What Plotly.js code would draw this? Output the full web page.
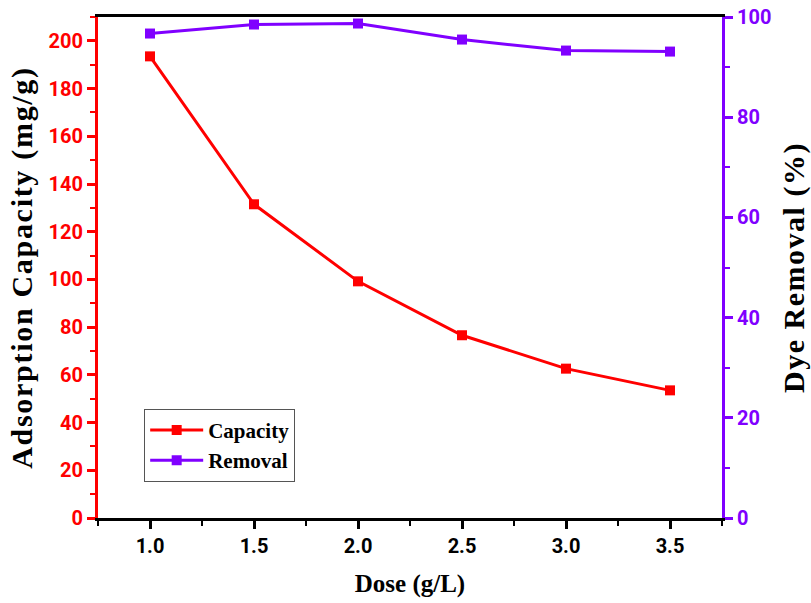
<!DOCTYPE html>
<html>
<head>
<meta charset="utf-8">
<script src="https://cdn.plot.ly/plotly-3.0.1.min.js"></script>
<style>
html,body{margin:0;padding:0;background:#fff;}
#chart{width:811px;height:603px;}
.xtick text, .ytick text, .y2tick text {font-weight:700 !important;}
.g-ytitle text {letter-spacing:1.7px;}
.g-y2title text {letter-spacing:1.5px;}
</style>
</head>
<body>
<div id="chart"></div>
<script>
const dose = [1.0, 1.5, 2.0, 2.5, 3.0, 3.5];
const capacity = [193.5, 131.5, 99.2, 76.6, 62.6, 53.5];
const removal = [96.7, 98.5, 98.7, 95.5, 93.3, 93.1];
const xTickVals = [1.0, 1.5, 2.0, 2.5, 3.0, 3.5];
const xTickText = ['1.0', '1.5', '2.0', '2.5', '3.0', '3.5'];

const RED = '#ff0000';
const PURPLE = '#8000ff';
const SANS = 'Roboto, Arial, sans-serif';
const SERIF = 'Liberation Serif, Times New Roman, serif';

const traces = [
  {x: dose, y: capacity, name: 'Capacity', type: 'scatter', mode: 'lines+markers',
   line: {color: RED, width: 3}, marker: {symbol: 'square', size: 10, color: RED}, yaxis: 'y'},
  {x: dose, y: removal, name: 'Removal', type: 'scatter', mode: 'lines+markers',
   line: {color: PURPLE, width: 3}, marker: {symbol: 'square', size: 10, color: PURPLE}, yaxis: 'y2'}
];

const layout = {
  width: 811, height: 603,
  margin: {l: 98, r: 89, t: 17, b: 85},
  paper_bgcolor: '#fff', plot_bgcolor: '#fff',
  showlegend: true,
  legend: {x: 0.074, y: 0.218, xanchor: 'left', yanchor: 'top',
    bordercolor: '#555', borderwidth: 1, bgcolor: 'rgba(255,255,255,0)',
    font: {family: SERIF, size: 21, color: '#000', weight: 700},
    tracegroupgap: 0, itemwidth: 53},
  xaxis: {
    range: [0.75, 3.75], tickvals: xTickVals, ticktext: xTickText,
    showline: true, linecolor: '#000', linewidth: 3, mirror: true,
    ticks: 'outside', ticklen: 8, tickwidth: 3, tickcolor: '#000',
    minor: {dtick: 0.25, tick0: 0.75, ticks: 'outside', ticklen: 5, tickwidth: 2, tickcolor: '#000'},
    showgrid: false, zeroline: false,
    tickfont: {family: SANS, size: 20, color: '#000', weight: 700},
    title: {text: 'Dose (g/L)', standoff: 18,
      font: {family: SERIF, size: 25, color: '#000', weight: 700}}
  },
  yaxis: {
    range: [0, 210], dtick: 20, tick0: 0,
    showline: true, linecolor: RED, linewidth: 3,
    ticks: 'outside', ticklen: 8, tickwidth: 3, tickcolor: RED,
    minor: {dtick: 10, ticks: 'outside', ticklen: 5, tickwidth: 2, tickcolor: RED},
    showgrid: false, zeroline: false,
    tickfont: {family: SANS, size: 20, color: RED, weight: 700},
    title: {text: 'Adsorption Capacity (mg/g)', standoff: 8,
      font: {family: SERIF, size: 30, color: '#000', weight: 700}}
  },
  yaxis2: {
    range: [0, 100], dtick: 20, tick0: 0, overlaying: 'y', side: 'right',
    showline: true, linecolor: PURPLE, linewidth: 3,
    ticks: 'outside', ticklen: 8, tickwidth: 3, tickcolor: PURPLE,
    minor: {dtick: 10, ticks: 'outside', ticklen: 5, tickwidth: 2, tickcolor: PURPLE},
    showgrid: false, zeroline: false,
    tickfont: {family: SANS, size: 20, color: PURPLE, weight: 700},
    title: {text: 'Dye Removal (%)', standoff: 14,
      font: {family: SERIF, size: 30, color: '#000', weight: 700}}
  }
};

Plotly.newPlot('chart', traces, layout, {staticPlot: true, displayModeBar: false});
</script>
</body>
</html>
